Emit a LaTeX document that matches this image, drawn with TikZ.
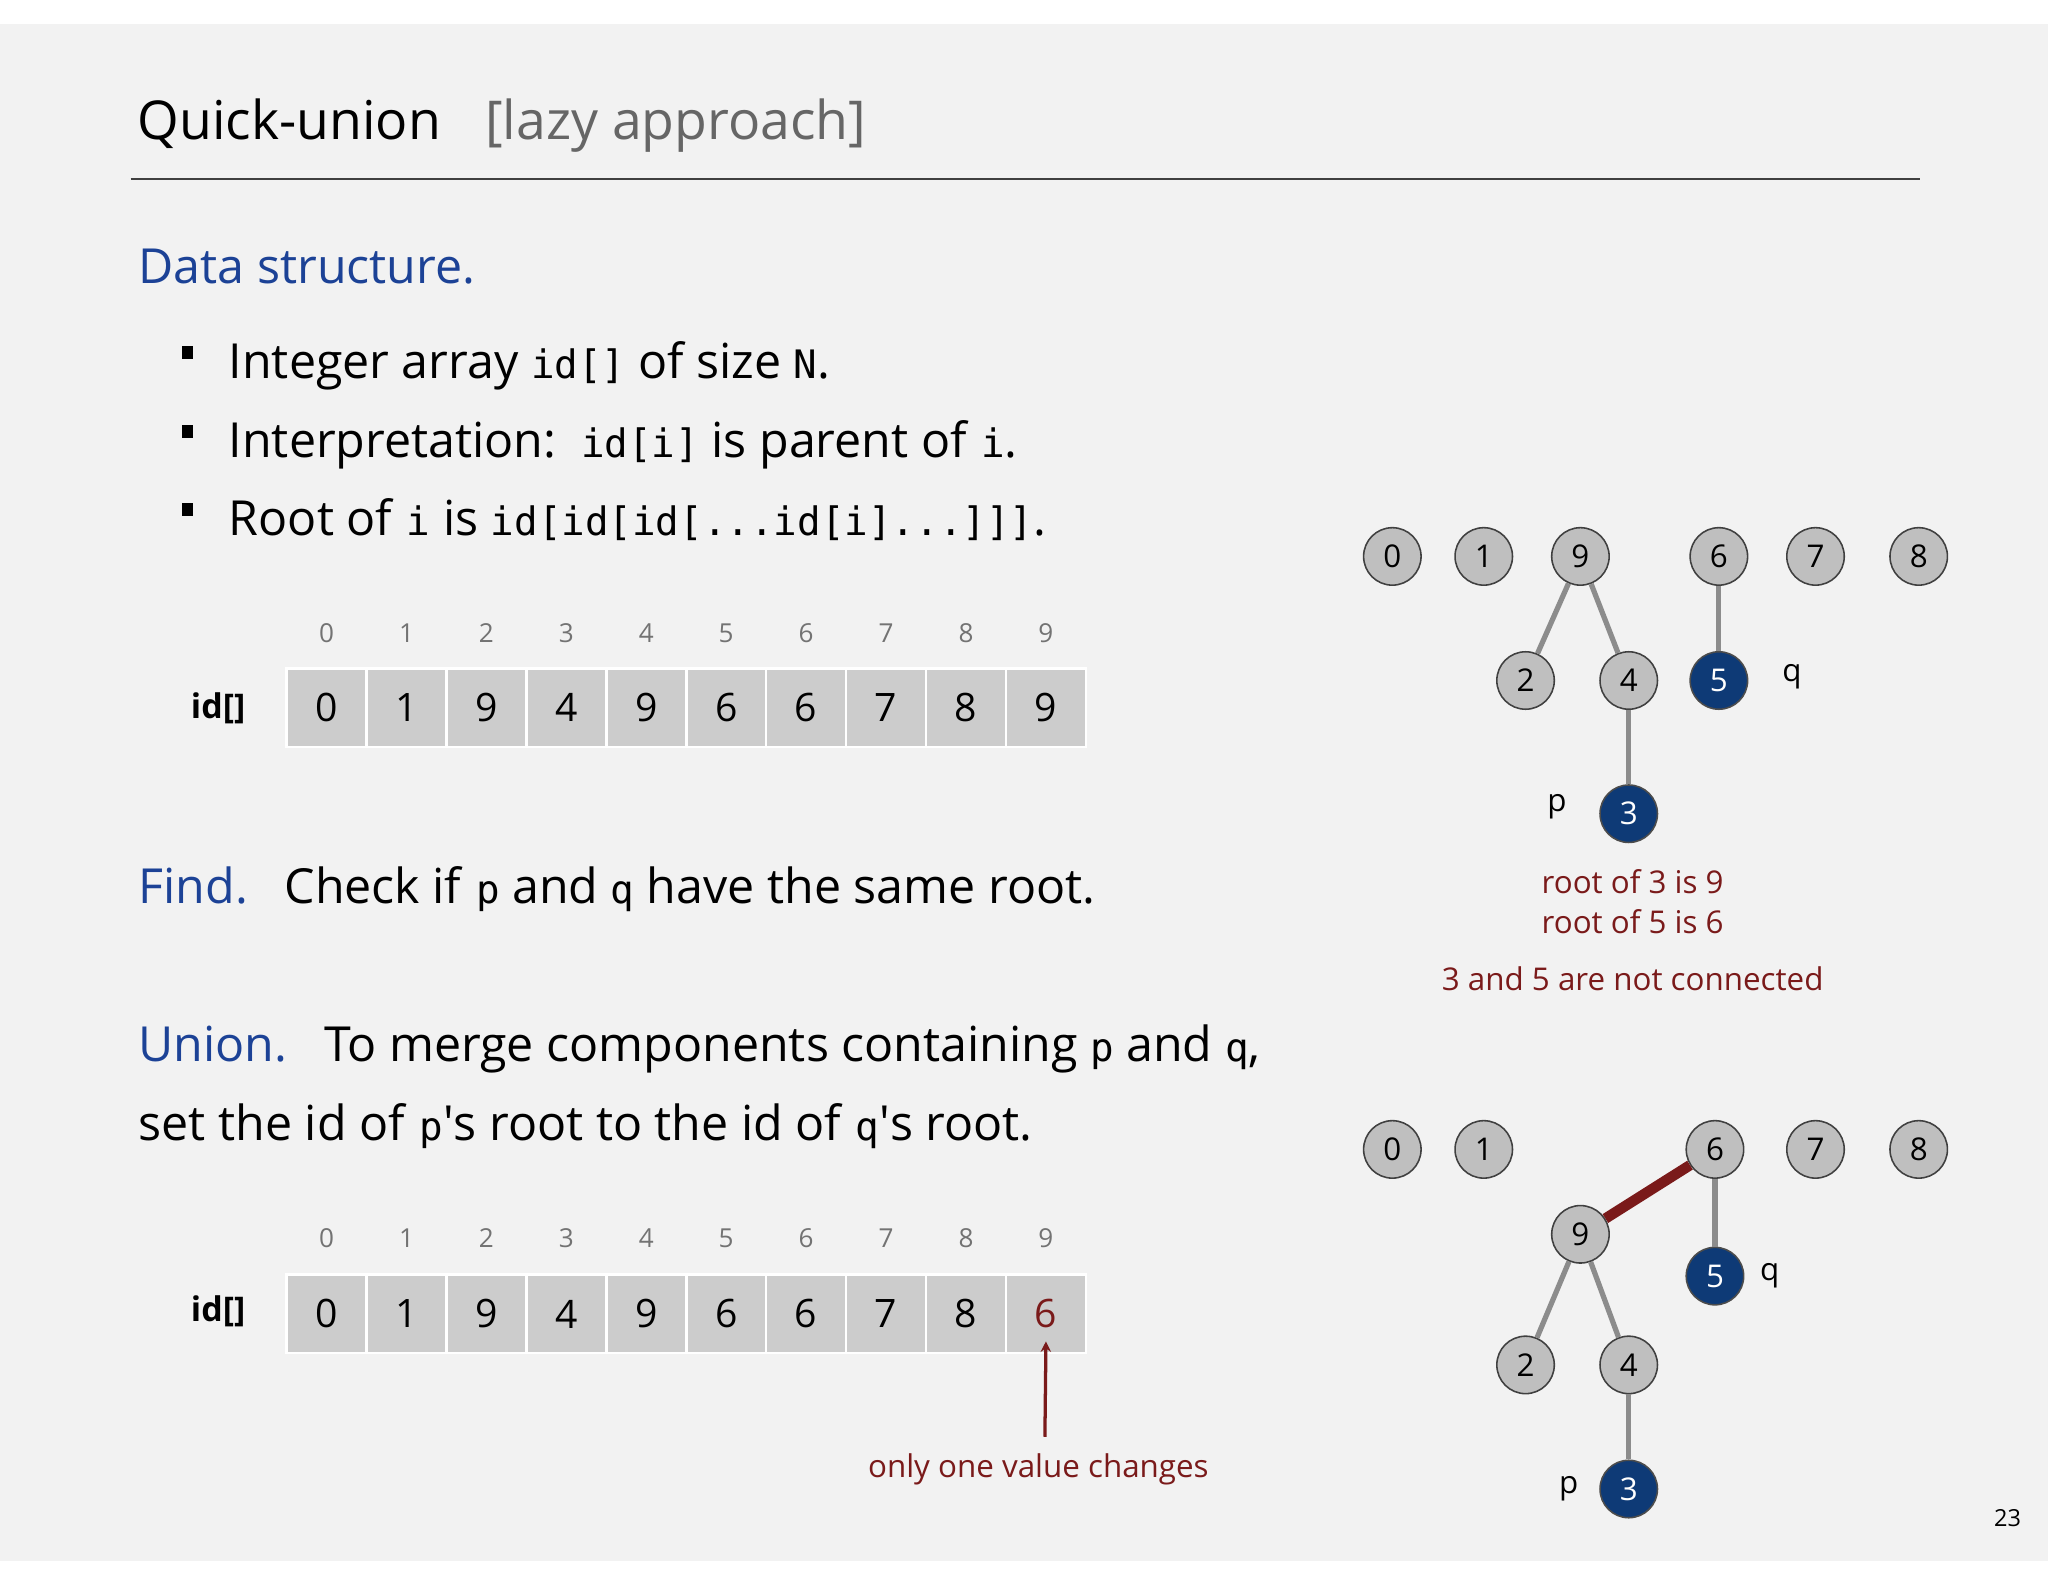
\documentclass[tikz,border=0pt]{standalone}
\usepackage{fontspec}
\setmainfont{Open Sans}
\setmonofont{DejaVu Sans Mono}
\begin{document}
\begin{tikzpicture}[x=1pt,y=-1pt,
  every node/.style={inner sep=0pt},
  cell/.style={draw=white,line width=2pt,fill=black!20,minimum width=61.2pt,minimum height=60pt,font=\fontsize{30}{30}\selectfont},
  idx/.style={text=black!55,font=\fontsize{20}{20}\selectfont},
  gn/.style={circle,draw=black!75,line width=1.2pt,fill=black!25,minimum size=44pt,font=\fontsize{24}{24}\selectfont},
  bn/.style={gn,fill=nblue,draw=black!70,text=white},
  ed/.style={line width=4pt,draw=black!45},
  red/.style={text=dred,font=\fontsize{24}{24}\selectfont},
  body/.style={anchor=base west,font=\fontsize{37}{37}\selectfont},
  blu/.style={text=tblue}]
\definecolor{dred}{RGB}{122,26,26}
\definecolor{tblue}{RGB}{28,66,150}
\definecolor{nblue}{RGB}{14,58,118}
\useasboundingbox (0,0) rectangle (1568,1211);
\fill[white] (0,0) rectangle (1568,1211);
\fill[black!5] (0,18) rectangle (1568,1195);
\node[anchor=base west,font=\fontsize{41}{41}\selectfont] (title) at (105,107) {Quick-union\hspace{34pt}\textcolor{black!60}{[lazy approach]}};
\draw[line width=1.5pt,black!75] (100,137) -- (1470,137);
\node[body,blu] (ds) at (106,217) {Data structure.};
\foreach \y in {277,337,397}{\fill (139,\y-2) rectangle +(9,-10);}
\node[body] (b1) at (175,290) {Integer array \texttt{\fontsize{30}{30}\selectfont id[]} of size \texttt{\fontsize{30}{30}\selectfont N}.};
\node[body] (b2) at (175,350) {Interpretation:\, \texttt{\fontsize{30}{30}\selectfont id[i]} is parent of \texttt{\fontsize{30}{30}\selectfont i}.};
\node[body] (b3) at (175,410) {Root of \texttt{\fontsize{30}{30}\selectfont i} is \texttt{\fontsize{30}{30}\selectfont id[id[id[...id[i]...]]]}.};
\node[body] (fi) at (106,692) {\textcolor{tblue}{Find.}\hspace{28pt}Check if \texttt{\fontsize{30}{30}\selectfont p} and \texttt{\fontsize{30}{30}\selectfont q} have the same root.};
\node[body] (un) at (106,813) {\textcolor{tblue}{Union.}\hspace{28pt}To merge components containing \texttt{\fontsize{30}{30}\selectfont p} and \texttt{\fontsize{30}{30}\selectfont q},};
\node[body] (un2) at (106,873) {set the id of \texttt{\fontsize{30}{30}\selectfont p}\textquotesingle s root to the id of \texttt{\fontsize{30}{30}\selectfont q}\textquotesingle s root.};
% arrays
\foreach \v [count=\i from 0] in {0,1,9,4,9,6,6,7,8,9}{
  \node[cell] (a\i) at (250+61.2*\i,542) {\v};
  \node[idx] (ia\i) at (250+61.2*\i,485) {\i};}
\foreach \v [count=\i from 0] in {0,1,9,4,9,6,6,7,8}{
  \node[cell] (c\i) at (250+61.2*\i,1006) {\v};
  \node[idx] (ic\i) at (250+61.2*\i,948) {\i};}
\node[cell,text=dred] (c9) at (250+61.2*9,1006) {6};
\node[idx] (ic9) at (250+61.2*9,948) {9};
\node[font=\bfseries\fontsize{26}{26}\selectfont] (la) at (167,542) {id[]};
\node[font=\bfseries\fontsize{26}{26}\selectfont] (lc) at (167,1004) {id[]};
\coordinate (ar) at (800,1100);
\draw[dred,line width=2.5pt,-stealth] (ar) -- ([yshift=10pt]c9.south);
\node[red] (oc) at (795,1125) {only one value changes};
% tree 1
\node[gn] (t0) at (1066,426) {0};
\node[gn] (t1) at (1136,426) {1};
\node[gn] (t9) at (1210,426) {9};
\node[gn] (t6) at (1316,426) {6};
\node[gn] (t7) at (1390,426) {7};
\node[gn] (t8) at (1469,426) {8};
\node[gn] (t2) at (1168,521) {2};
\node[gn] (t4) at (1247,521) {4};
\node[bn] (t5) at (1316,521) {5};
\node[bn] (t3) at (1247,623) {3};
\draw[ed] (t9) -- (t2); \draw[ed] (t9) -- (t4); \draw[ed] (t4) -- (t3); \draw[ed] (t6) -- (t5);
\node[font=\fontsize{24}{24}\selectfont] (q1) at (1372,518) {q};
\node[font=\fontsize{24}{24}\selectfont] (p1) at (1192,618) {p};
\node[red] (r1) at (1250,675) {root of 3 is 9};
\node[red] (r2) at (1250,706) {root of 5 is 6};
\node[red] (r3) at (1250,749) {3 and 5 are not connected};
% tree 2
\node[gn] (s0) at (1066,880) {0};
\node[gn] (s1) at (1136,880) {1};
\node[gn] (s6) at (1313,880) {6};
\node[gn] (s7) at (1390,880) {7};
\node[gn] (s8) at (1469,880) {8};
\node[gn] (s9) at (1210,945) {9};
\node[bn] (s5) at (1313,977) {5};
\node[gn] (s2) at (1168,1045) {2};
\node[gn] (s4) at (1247,1045) {4};
\node[bn] (s3) at (1247,1140) {3};
\draw[ed] (s9) -- (s2); \draw[ed] (s9) -- (s4); \draw[ed] (s4) -- (s3); \draw[ed] (s6) -- (s5);
\draw[line width=8pt,dred] (s9) -- (s6);
\node[font=\fontsize{24}{24}\selectfont] (q2) at (1355,977) {q};
\node[font=\fontsize{24}{24}\selectfont] (p2) at (1201,1140) {p};
\node[font=\fontsize{18}{18}\selectfont] (pg) at (1537,1162) {23};
\end{tikzpicture}
\end{document}
